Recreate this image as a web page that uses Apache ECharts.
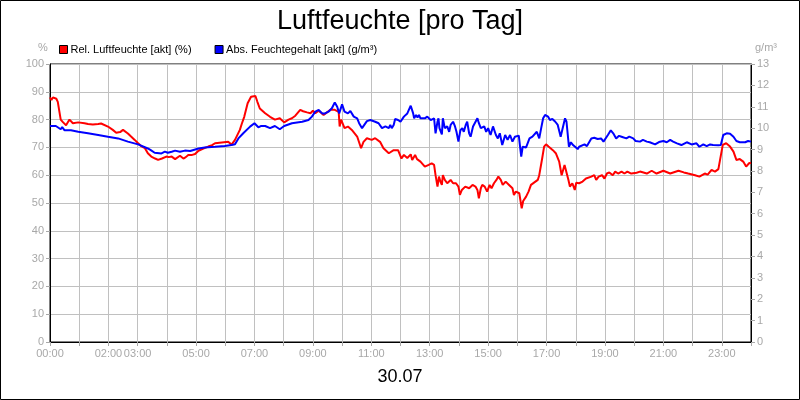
<!DOCTYPE html>
<html>
<head>
<meta charset="utf-8">
<title>Luftfeuchte</title>
<script src="https://cdn.jsdelivr.net/npm/echarts@6/dist/echarts.min.js"></script>
<style>
  html, body { margin: 0; padding: 0; background: #fff; }
  #chart { width: 800px; height: 400px; }
</style>
</head>
<body>
<div id="chart"></div>
<script>
// Zeitachse in Minuten seit 00:00
const hourLabels = ['00:00', '02:00', '03:00', '05:00', '07:00', '09:00', '11:00',
  '13:00', '15:00', '17:00', '19:00', '21:00', '23:00']

// Rel. Luftfeuchte (%)
const relMinutes = [0, 3, 6, 13, 16, 22, 27, 33, 40, 47, 58, 71, 78, 88, 99, 105, 119, 129, 136, 144,
  150, 160, 166, 174, 181, 187, 195, 201, 208, 216, 222, 230, 239, 244, 250, 257, 261, 267, 274, 279,
  284, 292, 298, 305, 315, 325, 333, 339, 353, 366, 373, 380, 385, 390, 394, 399, 406, 413, 422, 426,
  431, 442, 452, 462, 472, 481, 490, 497, 504, 514, 520, 528, 535, 540, 545, 552, 562, 569, 576, 585,
  593, 595, 598, 605, 612, 620, 631, 639, 644, 651, 661, 668, 678, 685, 696, 706, 715, 722, 727, 734,
  741, 744, 750, 754, 761, 770, 774, 778, 784, 789, 792, 796, 799, 802, 805, 807, 811, 816, 823, 828,
  834, 839, 842, 846, 853, 861, 868, 874, 878, 881, 885, 888, 893, 898, 903, 907, 912, 917, 921, 926,
  930, 936, 943, 950, 953, 957, 964, 969, 972, 978, 983, 988, 995, 1002, 1005, 1011, 1015, 1019, 1024, 1033,
  1039, 1046, 1051, 1054, 1057, 1061, 1065, 1068, 1073, 1076, 1078, 1081, 1087, 1094, 1101, 1105, 1112, 1118, 1122, 1127,
  1134, 1139, 1144, 1149, 1156, 1161, 1167, 1174, 1180, 1186, 1194, 1198, 1205, 1212, 1226, 1236, 1246, 1260, 1274, 1291,
  1302, 1311, 1325, 1334, 1345, 1351, 1359, 1366, 1373, 1376, 1382, 1389, 1397, 1404, 1410, 1417, 1424, 1430, 1436, 1440]
const relValues = [88, 87, 88, 87.5, 86.4, 80, 79, 78, 80, 78.7, 79, 78.7, 78.4, 78.2, 78.4, 78.6, 77.5, 76.3, 75.3, 75.5,
  76.3, 75, 74, 72.7, 71.5, 70.5, 69.7, 67.9, 66.7, 66, 65.5, 66, 66.7, 66.5, 66.7, 65.8, 65.5, 67, 66, 66.5,
  67.3, 67.3, 67.6, 68.8, 69.6, 70.3, 70.8, 71.5, 71.8, 72, 71, 72.7, 74.5, 76.3, 78.5, 81, 85.9, 88.2, 88.5, 86.4,
  84, 82.3, 81, 80, 80.5, 79, 80, 80.5, 81.4, 83.5, 83, 82.6, 82.3, 83.2, 82.3, 83.2, 81.7, 82.6, 83.5, 83.5,
  82.8, 77.5, 80, 76.9, 77.5, 76.3, 73.9, 69.7, 72, 73.3, 72.7, 73.3, 72, 69.7, 67.9, 69, 69, 66, 67.3, 66.2,
  67.5, 65.5, 67.3, 65.8, 64.9, 63.1, 62.8, 63.7, 64.3, 63.7, 60, 55.9, 59.5, 57.7, 56.5, 60, 58.3, 57.1, 58.3, 57.1,
  57.1, 55.9, 52.9, 54.7, 55.9, 55.3, 56.5, 55.9, 54.7, 51.7, 55.3, 56.5, 55.9, 54.1, 56.5, 55.3, 57.1, 58.3, 59.5, 58.3,
  56.5, 57.7, 56.5, 55.3, 52.9, 54.1, 53.5, 48.1, 50.7, 52.3, 54.1, 56.5, 57.4, 58.3, 60, 66, 70.3, 71.1, 70.3, 69,
  67.9, 64.9, 60, 59.5, 63.7, 63.3, 58.3, 55.9, 57.1, 56.5, 54.7, 57.3, 57.1, 57.7, 58.8, 58.3, 59.5, 60, 58.3, 59.5,
  60, 58.8, 60.6, 61, 60, 61.3, 60.6, 61.3, 60.6, 61.3, 60.6, 61.3, 60.9, 61.3, 60.6, 61.6, 60.6, 61.6, 60.6, 61.6,
  61, 60.6, 60, 59.5, 60.6, 60.2, 61.9, 61.3, 62.2, 62.4, 70.9, 71.5, 70.3, 68.5, 65.5, 65.8, 64.9, 63.1, 64.3, 64.5]

// Abs. Feuchtegehalt (g/m³)
const absMinutes = [0, 12, 16, 22, 25, 30, 43, 58, 78, 99, 119, 140, 160, 181, 201, 207, 215, 229, 236, 242,
  250, 257, 267, 277, 288, 305, 318, 339, 359, 373, 380, 387, 397, 411, 420, 428, 433, 442, 452, 462,
  472, 481, 497, 518, 531, 538, 545, 552, 559, 565, 572, 579, 585, 590, 594, 600, 605, 612, 617, 624,
  631, 635, 641, 645, 651, 658, 668, 675, 678, 682, 689, 692, 696, 699, 702, 706, 709, 715, 720, 727,
  734, 741, 746, 748, 752, 755, 758, 761, 764, 770, 775, 782, 785, 789, 792, 796, 798, 800, 805, 807,
  811, 816, 820, 823, 828, 832, 835, 839, 843, 847, 850, 854, 857, 861, 864, 869, 873, 878, 881, 885,
  892, 896, 900, 905, 910, 916, 920, 924, 929, 935, 940, 945, 950, 955, 963, 968, 971, 978, 985, 991,
  995, 1000, 1003, 1005, 1009, 1013, 1017, 1020, 1023, 1027, 1032, 1038, 1043, 1049, 1053, 1058, 1061, 1066, 1070, 1075,
  1079, 1084, 1087, 1091, 1098, 1103, 1112, 1118, 1125, 1132, 1137, 1140, 1146, 1152, 1157, 1163, 1169, 1174, 1178, 1184,
  1190, 1194, 1198, 1203, 1212, 1218, 1226, 1232, 1243, 1251, 1260, 1267, 1274, 1280, 1288, 1297, 1308, 1318, 1328, 1334,
  1342, 1349, 1356, 1362, 1373, 1378, 1383, 1390, 1397, 1404, 1410, 1417, 1428, 1434, 1440]
const absValues = [10.1, 10.1, 10.05, 9.95, 10.05, 9.9, 9.9, 9.83, 9.76, 9.68, 9.6, 9.52, 9.37, 9.24, 9.05, 8.97, 8.85, 8.82, 8.9, 8.85,
  8.9, 8.95, 8.9, 8.95, 8.93, 9.05, 9.1, 9.13, 9.17, 9.21, 9.25, 9.52, 9.76, 10.07, 10.23, 10.04, 10.1, 10.1, 10, 10.1,
  9.95, 10.1, 10.23, 10.3, 10.38, 10.54, 10.77, 10.85, 10.69, 10.69, 10.77, 10.93, 11.2, 11.0, 10.69, 11.11, 10.77, 10.69, 10.8, 10.54,
  10.46, 10.23, 10.0, 10.0, 10.33, 10.38, 10.3, 10.23, 10.3, 10.0, 10.08, 10.15, 10.0, 10.15, 10.0, 10.15, 10.43, 10.38, 10.3, 10.54,
  10.69, 11.05, 10.69, 10.46, 10.62, 10.5, 10.62, 10.46, 10.54, 10.46, 10.54, 10.38, 10.3, 10.46, 9.76, 10.3, 10.46, 10.0, 9.71, 10.46,
  10.0, 10.08, 9.83, 10.15, 10.3, 10.08, 9.83, 9.37, 9.9, 10.0, 9.83, 10.15, 10.3, 9.76, 9.6, 10.08, 10.15, 10.46, 10.23, 10.0,
  10.08, 9.83, 10.0, 9.68, 10.08, 9.68, 9.52, 9.76, 9.21, 9.68, 9.45, 9.68, 9.37, 9.6, 9.65, 8.67, 9.13, 9.1, 9.52, 9.6,
  9.52, 9.83, 9.86, 9.52, 10.0, 10.46, 10.62, 10.69, 10.54, 10.38, 10.43, 10.3, 10.15, 9.6, 9.65, 10.46, 10.3, 9.13, 9.34, 9.2,
  9.29, 9.02, 9.13, 9.05, 9.24, 9.16, 9.52, 9.55, 9.49, 9.52, 9.37, 9.4, 9.68, 9.9, 9.76, 9.52, 9.64, 9.6, 9.68, 9.52,
  9.6, 9.52, 9.52, 9.4, 9.37, 9.45, 9.37, 9.34, 9.24, 9.35, 9.4, 9.34, 9.45, 9.37, 9.29, 9.21, 9.34, 9.24, 9.29, 9.13,
  9.24, 9.16, 9.24, 9.21, 9.2, 9.21, 9.68, 9.76, 9.74, 9.6, 9.4, 9.34, 9.34, 9.4, 9.37]

const relData = relMinutes.map((m, i) => [m, relValues[i]])
const absData = absMinutes.map((m, i) => [m, absValues[i]])

const font = 'Liberation Sans, Arial, sans-serif'
const grey = '#a8a8a8'

const chart = echarts.init(document.getElementById('chart'))

const option = {
  backgroundColor: '#fff',
  animation: false,
  textStyle: { fontFamily: font },
  title: {
    text: 'Luftfeuchte [pro Tag]',
    left: 'center',
    top: 3,
    textStyle: { fontSize: 27, fontWeight: 'normal', color: '#000', fontFamily: font }
  },
  legend: {
    data: ['Rel. Luftfeuchte [akt] (%)', 'Abs. Feuchtegehalt [akt] (g/m³)'],
    left: 54,
    top: 39,
    icon: 'rect',
    itemWidth: 8,
    itemHeight: 8,
    itemGap: 23,
    itemStyle: { borderColor: '#000', borderWidth: 1 },
    textStyle: { fontSize: 11, color: '#000', fontFamily: font, padding: [0, 0, 0, -2] }
  },
  graphic: [
    { type: 'rect', shape: { x: 0.5, y: 0.5, width: 799, height: 399 }, style: { fill: 'none', stroke: '#000', lineWidth: 1 } },
    { type: 'text', left: 38, top: 42, style: { text: '%', fill: grey, font: '11px ' + font } },
    { type: 'text', left: 755, top: 42, style: { text: 'g/m³', fill: grey, font: '11px ' + font } },
    { type: 'text', left: 'center', top: 368, style: { text: '30.07', fill: '#000', font: '18px ' + font } }
  ],
  grid: {
    left: 50, right: 49, top: 64, bottom: 58,
    show: true, borderColor: '#000', borderWidth: 1, backgroundColor: 'transparent'
  },
  xAxis: {
    type: 'value',
    min: 0,
    max: 1440,
    interval: 60,
    axisLine: { show: true, lineStyle: { color: '#000' } },
    axisTick: { show: true, length: 4, lineStyle: { color: grey } },
    axisLabel: {
      color: grey, fontSize: 11, margin: 6, fontFamily: font,
      formatter: v => {
        const lbl = String(Math.round(v / 60)).padStart(2, '0') + ':00'
        return hourLabels.includes(lbl) ? lbl : ''
      }
    },
    splitLine: { show: true, lineStyle: { color: '#c0c0c0', width: 1 } }
  },
  yAxis: [
    {
      type: 'value',
      min: 0,
      max: 100,
      interval: 10,
      position: 'left',
      axisLine: { show: true, lineStyle: { color: '#000' } },
      axisTick: { show: true, length: 4, lineStyle: { color: grey } },
      axisLabel: { color: grey, fontSize: 11, margin: 6, fontFamily: font },
      splitLine: { show: true, lineStyle: { color: '#c0c0c0', width: 1 } }
    },
    {
      type: 'value',
      min: 0,
      max: 13,
      interval: 1,
      position: 'right',
      axisLine: { show: true, lineStyle: { color: '#000' } },
      axisTick: { show: true, length: 4, lineStyle: { color: grey } },
      axisLabel: { color: grey, fontSize: 11, margin: 6, fontFamily: font },
      splitLine: { show: false }
    }
  ],
  series: [
    {
      name: 'Rel. Luftfeuchte [akt] (%)',
      type: 'line',
      yAxisIndex: 0,
      data: relData,
      showSymbol: false,
      color: '#ff0000',
      lineStyle: { color: '#ff0000', width: 2 }
    },
    {
      name: 'Abs. Feuchtegehalt [akt] (g/m³)',
      type: 'line',
      yAxisIndex: 1,
      data: absData,
      showSymbol: false,
      color: '#0000ff',
      lineStyle: { color: '#0000ff', width: 2 }
    }
  ]
}

chart.setOption(option)
</script>
</body>
</html>
